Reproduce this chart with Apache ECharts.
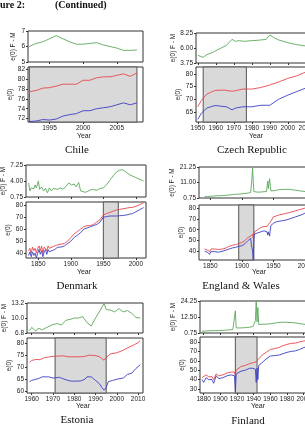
<!DOCTYPE html>
<html><head><meta charset="utf-8">
<script src="https://cdn.jsdelivr.net/npm/echarts@6/dist/echarts.min.js"></script>
<style>html,body{margin:0;padding:0;background:#fff}#c{width:305px;height:431px}</style>
</head><body><div id="c"></div>
<script>
// Panels: [year, value] pairs.
const chileFem = [[1992,77.5],[1993,77.7],[1994,78.2],[1995,78.3],[1996,78.6],[1997,79.0],[1998,79.0],[1999,79.0],[2000,79.8],[2001,79.8],[2002,80.3],[2003,80.5],[2004,80.5],[2005,80.8],[2006,81.1],[2007,80.6],[2008,81.3]];
const chileMal = [[1992,71.4],[1993,71.5],[1994,71.8],[1995,71.7],[1996,71.9],[1997,72.5],[1998,72.8],[1999,73.0],[2000,73.6],[2001,73.6],[2002,74.0],[2003,74.2],[2004,74.4],[2005,74.8],[2006,75.2],[2007,74.8],[2008,75.2]];
const chileGap = [[1992,6.0],[1993,6.2],[1994,6.3],[1995,6.5],[1996,6.7],[1997,6.5],[1998,6.3],[1999,6.15],[2000,6.15],[2001,6.2],[2002,6.25],[2003,6.1],[2004,6.0],[2005,5.9],[2006,5.75],[2007,5.75],[2008,5.78]];

const czechFem = [[1950,67],[1952,69.5],[1955,72],[1958,73],[1960,73.5],[1965,73.6],[1968,73.2],[1970,73.2],[1975,74],[1980,74],[1985,74.6],[1990,75.6],[1995,76.8],[2000,78.2],[2005,79.2],[2010,80.7],[2013,81.5]];
const czechMal = [[1950,62],[1952,64.5],[1955,66.5],[1958,67.2],[1960,67.5],[1963,67.2],[1966,67],[1969,65.8],[1971,66.5],[1975,67],[1980,67],[1985,67.6],[1990,67.6],[1995,70],[2000,71.6],[2005,73],[2010,74.4],[2013,75.2]];
const czechGap = [[1950,4.9],[1953,4.6],[1955,5.0],[1958,5.3],[1960,5.6],[1963,6.0],[1966,6.4],[1969,7.3],[1971,7.0],[1973,7.1],[1976,7.0],[1980,7.1],[1985,7.2],[1988,7.3],[1990,7.95],[1992,7.6],[1995,7.2],[2000,6.8],[2005,6.5],[2010,6.3],[2013,6.2]];

const denFem = [[1835,42],[1837,44],[1839,40],[1841,45],[1843,42],[1845,44],[1847,40],[1849,44],[1851,46],[1853,42],[1855,46],[1857,40],[1859,45],[1861,46],[1863,42],[1865,46],[1867,44],[1870,45],[1875,46],[1880,47],[1885,47.5],[1890,48],[1895,50],[1900,53],[1905,56],[1910,58],[1915,60],[1920,62],[1925,63],[1930,63],[1935,64],[1940,66],[1945,68],[1950,72],[1955,73],[1960,74],[1965,75],[1970,76],[1975,76.5],[1980,77],[1985,77.5],[1990,78],[1995,78.2],[2000,79],[2005,80.3],[2010,81.5],[2012,82]];
const denMal = [[1835,38],[1837,41],[1839,37],[1841,41],[1843,38],[1845,40],[1847,36],[1849,40],[1851,43],[1853,39],[1855,42],[1857,37],[1859,41],[1861,43],[1863,39],[1865,43],[1867,41],[1870,42],[1875,43],[1880,45],[1885,45],[1890,46],[1895,48],[1900,50],[1905,53],[1910,55],[1915,57],[1920,60],[1925,61],[1930,62],[1935,63],[1940,64],[1945,66],[1950,70],[1955,70.5],[1960,71],[1965,71],[1970,71],[1975,71.2],[1980,71.5],[1985,71.8],[1990,72.5],[1995,73],[2000,74.5],[2005,76],[2010,77.5],[2012,78]];
const denGap = [[1835,3.6],[1837,2.0],[1839,2.6],[1841,3.0],[1843,2.4],[1845,3.2],[1847,2.6],[1850,4.0],[1852,2.3],[1855,2.8],[1858,2.0],[1861,2.5],[1864,1.6],[1867,2.6],[1870,2.0],[1873,2.5],[1876,2.2],[1880,2.3],[1884,2.6],[1888,2.3],[1893,3.0],[1897,3.6],[1901,3.2],[1905,3.4],[1908,2.8],[1912,3.7],[1915,2.0],[1918,1.6],[1922,1.7],[1926,1.9],[1930,2.2],[1935,2.3],[1940,2.1],[1945,2.5],[1950,2.6],[1954,3.1],[1958,3.8],[1962,4.5],[1966,5.2],[1970,5.8],[1975,6.2],[1979,6.3],[1983,6.0],[1987,5.6],[1991,5.2],[1995,5.0],[2000,4.7],[2005,4.4],[2010,4.1],[2012,4.0]];

const ewFem = [[1841,42],[1845,41],[1847,40],[1849,39.5],[1851,42],[1854,40.5],[1857,42],[1860,43],[1863,41.5],[1866,42],[1870,42],[1875,43],[1880,44.5],[1885,45.5],[1890,46],[1895,47],[1900,48],[1905,50],[1910,53],[1914,54],[1915,55],[1917,56],[1918,52],[1919,56],[1920,58],[1925,60],[1930,62],[1935,63],[1940,63],[1942,65],[1945,67],[1950,72],[1955,73],[1960,74],[1965,74.5],[1970,75.2],[1975,76],[1980,76.8],[1985,77.6],[1990,78.6],[1995,79.3],[2000,80.2],[2005,81.3],[2010,82.5],[2012,82.8]];
const ewMal = [[1841,40],[1845,39],[1847,37.5],[1849,37],[1851,39.5],[1854,38],[1857,39.5],[1860,40.5],[1863,39],[1866,39.5],[1870,40],[1875,41],[1880,42],[1885,43],[1890,43.5],[1895,44.5],[1900,45],[1905,47],[1910,50],[1913,51],[1914,52],[1915,46],[1916,43],[1917,40],[1918,32],[1919,51],[1920,56],[1925,57],[1930,58],[1935,59],[1940,58],[1941,55],[1942,58],[1943,56],[1944,54],[1945,60],[1946,64],[1950,66],[1955,67.5],[1960,68],[1965,68.5],[1970,69],[1975,70],[1980,71],[1985,72],[1990,73],[1995,74],[2000,75.5],[2005,77],[2010,78.5],[2012,79]];
const ewGap = [[1841,1.8],[1845,1.6],[1850,1.9],[1855,2.0],[1860,2.3],[1865,2.2],[1870,2.4],[1875,2.5],[1880,2.8],[1885,3.0],[1890,3.2],[1895,3.3],[1900,3.5],[1905,3.8],[1910,4.0],[1913,4.2],[1914,4.5],[1915,9],[1916,14],[1917,21],[1918,12],[1919,5],[1920,4.5],[1925,4.6],[1930,4.7],[1935,4.9],[1939,5.0],[1940,6],[1941,12],[1942,7],[1943,10.5],[1944,13.5],[1945,9],[1946,5.5],[1948,5.2],[1952,5.6],[1956,6.0],[1960,6.3],[1965,6.4],[1970,6.5],[1975,6.5],[1980,6.2],[1985,5.9],[1990,5.6],[1995,5.3],[2000,5.0],[2005,4.6],[2010,4.2],[2012,4.0]];

const estFem = [[1959,72],[1960,72.8],[1962,73.2],[1964,73.1],[1966,74],[1968,74.2],[1970,74.5],[1972,74.6],[1975,74.7],[1977,74.3],[1980,74.3],[1983,74.3],[1985,74.5],[1987,75],[1990,74.8],[1992,74.3],[1993,73.5],[1994,72.9],[1995,74],[1997,75.5],[2000,76],[2003,77],[2005,78],[2008,79.2],[2010,80.2],[2011,81]];
const estMal = [[1959,64],[1960,64.5],[1962,65],[1963,65.2],[1965,66],[1968,66],[1970,65.5],[1973,65.8],[1975,65.1],[1978,64.3],[1980,64.2],[1983,64.3],[1985,65],[1986,66],[1988,66],[1990,64.5],[1992,63],[1993,61.5],[1994,60.5],[1995,61.5],[1996,64],[1998,64.5],[2000,65],[2003,65.5],[2005,67],[2007,67.5],[2009,69.5],[2011,71]];
const estGap = [[1959,7.3],[1960,8.0],[1961,7.6],[1962,7.2],[1963,7.8],[1965,7.5],[1968,8.2],[1970,8.6],[1972,8.8],[1974,8.5],[1976,9.5],[1978,9.7],[1980,10.0],[1982,10.0],[1984,10.3],[1986,9.0],[1988,8.3],[1990,10.0],[1992,11.5],[1994,13.1],[1995,11.8],[1997,11.7],[1999,11.3],[2001,12.0],[2003,11.3],[2005,11.6],[2007,11.0],[2009,10.1],[2011,10.0]];

const finFem = [[1878,42],[1880,40],[1883,45],[1886,43],[1890,43],[1892,40],[1895,46],[1898,44],[1900,43],[1903,45],[1905,46],[1908,47],[1910,48],[1913,48],[1915,49],[1917,48],[1918,44],[1919,50],[1920,52],[1925,54],[1930,55],[1935,57],[1940,58],[1943,59],[1945,60],[1950,66],[1955,69],[1960,72],[1965,73],[1970,74],[1975,76],[1980,77.5],[1985,78.5],[1990,78.8],[1995,80],[2000,81],[2005,82],[2010,83],[2013,83.5]];
const finMal = [[1878,40],[1880,37],[1883,42],[1886,40],[1890,40],[1892,36],[1895,44],[1898,41],[1900,41],[1903,42],[1905,43],[1908,44],[1910,45],[1913,45],[1915,46],[1917,44],[1918,27],[1919,46],[1920,47],[1925,49],[1930,50],[1935,52],[1939,52],[1941,50],[1942,51],[1943,37],[1944,52],[1945,40],[1946,55],[1950,58],[1955,62],[1960,65],[1965,65.5],[1970,66],[1975,67.5],[1980,69],[1985,70],[1990,70.5],[1995,72],[2000,74],[2005,75.5],[2010,76.5],[2013,77.5]];
const finGap = [[1878,2.0],[1885,2.3],[1890,2.5],[1900,2.5],[1905,2.8],[1910,3.0],[1915,3.3],[1917,3.5],[1918,17],[1919,4.5],[1925,4.5],[1930,4.7],[1935,5.0],[1939,5.5],[1941,8],[1942,10],[1943,24.25],[1944,9],[1945,19.5],[1946,7],[1950,7.2],[1955,7.3],[1960,7.5],[1965,8.0],[1970,8.5],[1975,8.7],[1980,8.6],[1985,8.4],[1990,8.2],[1995,7.6],[2000,7.2],[2005,6.7],[2010,6.3],[2013,6.0]];

const countries = ['Chile','Czech Republic','Denmark','England & Wales','Estonia','Finland'];
const gapTicks = [[5,6,7],[3.75,6.00,8.25],[0.75,4.00,7.25],[0.75,11.00,21.25],[6.8,10.0,13.2],[0.75,12.50,24.25]];
const gapDecimals = [0,2,2,2,1,2];
const e0Ticks = [[72,74,76,78,80,82],[65,70,75,80],[40,50,60,70,80],[40,50,60,70,80],[60,65,70,75,80],[30,40,50,60,70,80]];
const e0Range = [[71.3,82.5],[61,82.7],[35.9,82.7],[31.7,83.1],[59.3,82.1],[25.7,85.3]];
const yearTicks = [[1995,2000,2005],[1950,1960,1970,1980,1990,2000,2010],[1850,1900,1950,2000],[1850,1900,1950,2000],[1960,1970,1980,1990,2000,2010],[1880,1900,1920,1940,1960,1980,2000]];
const xRange = [[1991.8,2008.9],[1949,2026.8],[1831,2015.6],[1832,2054],[1957.8,2012.3],[1875.6,2043.5]];
const shaded = [[1992,2008],[1953,1977],[1950,1973],[1895,1919],[1971,1995],[1918,1944]];

const fem = [chileFem,czechFem,denFem,ewFem,estFem,finFem];
const mal = [chileMal,czechMal,denMal,ewMal,estMal,finMal];
const gap = [chileGap,czechGap,denGap,ewGap,estGap,finGap];

// layout per panel (pixels): left, width, top-box, bottom-box
const layout = [
  {l:28, w:115, t:[31,31], b:[67,55], title:[77,150], year:[84,136]},
  {l:196, w:140, t:[33,30], b:[67,55], title:[252,150], year:[256,136]},
  {l:26, w:120, t:[165,32], b:[202,56], title:[77,286], year:[84,272]},
  {l:199, w:140, t:[167,31], b:[205,55], title:[241,286], year:[259,272]},
  {l:27, w:116, t:[303,30], b:[338,55], title:[77,420], year:[83,406]},
  {l:200, w:140, t:[301,32], b:[337,56], title:[248,421], year:[258,406]}
];

const RED = '#e8474c', BLUE = '#3d3fc4', GREEN = '#5aa85a';
const FONT = '"Liberation Sans", Arial, sans-serif';
const grid = [], xAxis = [], yAxis = [], series = [], graphic = [];
const fmt = (d) => (v) => v.toFixed(d);
const lab = {fontSize: 6.5, color: '#222', margin: 3, fontFamily: FONT, hideOverlap: false};
const tick = {show: true, length: 2, lineStyle: {color: '#333'}};

layout.forEach((L, i) => {
  const [x0, x1] = xRange[i];
  ['t','b'].forEach((k) => {
    const gi = grid.length;
    grid.push({left: L.l, top: L[k][0], width: L.w, height: L[k][1], show: true, borderColor: '#333', borderWidth: 1,
      backgroundColor: '#fff', outerBoundsMode: 'none', containLabel: false});
    xAxis.push({type: 'value', gridIndex: gi, min: x0, max: x1, splitLine: {show: false}, axisLine: {show: false},
      axisTick: Object.assign({customValues: yearTicks[i]}, tick),
      axisLabel: Object.assign({show: k === 'b', customValues: yearTicks[i], formatter: (v) => String(v)}, lab)});
    if (k === 't') {
      const gt = gapTicks[i];
      yAxis.push({type: 'value', gridIndex: gi, min: gt[0], max: gt[2],
        splitLine: {show: false}, axisLine: {show: false},
        axisTick: Object.assign({customValues: gt}, tick),
        axisLabel: Object.assign({customValues: gt, formatter: fmt(gapDecimals[i])}, lab),
        name: 'e(0) F - M', nameLocation: 'middle', nameGap: i % 2 ? 19 : 11, nameRotate: 90,
        nameTextStyle: {fontSize: 6.5, color: '#222', fontFamily: FONT}});
      series.push({type: 'line', xAxisIndex: gi, yAxisIndex: gi, data: gap[i], showSymbol: false,
        lineStyle: {color: GREEN, width: 0.9}, silent: true});
    } else {
      const [er0, er1] = e0Range[i];
      yAxis.push({type: 'value', gridIndex: gi, min: er0, max: er1,
        splitLine: {show: false}, axisLine: {show: false},
        axisTick: Object.assign({customValues: e0Ticks[i]}, tick),
        axisLabel: Object.assign({customValues: e0Ticks[i]}, lab),
        name: 'e(0)', nameLocation: 'middle', nameGap: 12, nameRotate: 90,
        nameTextStyle: {fontSize: 6.5, color: '#222', fontFamily: FONT}});
      const [s0, s1] = shaded[i];
      series.push({type: 'line', xAxisIndex: gi, yAxisIndex: gi, data: fem[i], showSymbol: false,
        lineStyle: {color: RED, width: 0.9}, silent: true, z: 3,
        markArea: {silent: true, itemStyle: {color: '#d9d9d9', borderColor: '#555', borderWidth: 1},
          data: [[{xAxis: s0}, {xAxis: s1}]]}});
      series.push({type: 'line', xAxisIndex: gi, yAxisIndex: gi, data: mal[i], showSymbol: false,
        lineStyle: {color: BLUE, width: 0.9}, silent: true, z: 3});
    }
  });
  graphic.push({type: 'text', x: L.title[0], y: L.title[1], style: {text: countries[i], fill: '#111',
    font: '11px "Liberation Serif"', textAlign: 'center', textVerticalAlign: 'middle'}});
  graphic.push({type: 'text', x: L.year[0], y: L.year[1], style: {text: 'Year', fill: '#222',
    font: '7px ' + FONT, textAlign: 'center', textVerticalAlign: 'middle'}});
});

graphic.push({type: 'text', x: 0, y: 5, style: {text: 'ure 2:', fill: '#111', font: 'bold 10px "Liberation Serif"', textVerticalAlign: 'middle'}});
graphic.push({type: 'text', x: 55, y: 5, style: {text: '(Continued)', fill: '#111', font: 'bold 10px "Liberation Serif"', textVerticalAlign: 'middle'}});

const chart = echarts.init(document.getElementById('c'), null, {renderer: 'canvas'});
chart.setOption({animation: false, grid, xAxis, yAxis, series, graphic});
</script></body></html>
